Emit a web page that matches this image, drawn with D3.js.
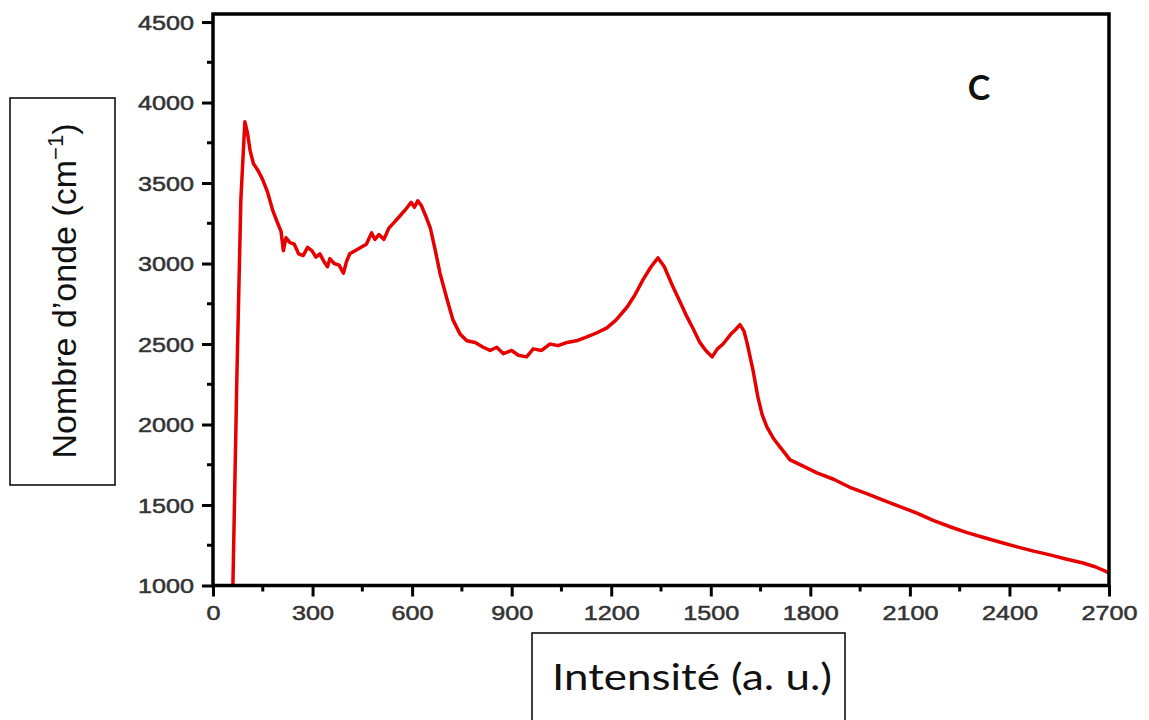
<!DOCTYPE html>
<html>
<head>
<meta charset="utf-8">
<script src="https://cdn.jsdelivr.net/npm/d3@7"></script>
<style>
  body { margin: 0; background: #fff; }
  svg { display: block; }
</style>
</head>
<body>
<svg width="1149" height="720"></svg>
<script>
// spectrum
const intensite = [60, 72, 84, 96, 104, 112, 122, 135, 150, 165, 180, 195, 205, 212, 220, 232, 245, 258, 272, 285,
  298, 310, 322, 335, 345, 352, 365, 380, 393, 402, 412, 428, 445, 462, 478, 488, 500, 515, 530, 548,
  565, 582, 597, 607, 617, 628, 640, 655, 670, 684, 705, 723, 745, 765, 790, 814, 835, 855, 875, 900,
  920, 945, 965, 990, 1015, 1040, 1067, 1095, 1127, 1157, 1187, 1215, 1248, 1270, 1296, 1320, 1341, 1360, 1386, 1408,
  1428, 1448, 1467, 1485, 1504, 1520, 1537, 1560, 1575, 1588, 1600, 1609, 1627, 1642, 1655, 1669, 1690, 1709, 1739, 1780,
  1820, 1870, 1919, 1970, 2019, 2070, 2121, 2170, 2221, 2270, 2320, 2370, 2423, 2470, 2522, 2570, 2622, 2660, 2694, 2700];
const nombreOnde = [1000, 2300, 3400, 3880, 3810, 3700, 3620, 3580, 3520, 3440, 3330, 3250, 3200, 3080, 3160, 3130, 3120, 3060, 3050, 3100,
  3080, 3040, 3060, 3010, 2980, 3030, 3000, 2990, 2940, 3010, 3060, 3080, 3100, 3120, 3190, 3150, 3180, 3150, 3220, 3260,
  3300, 3340, 3380, 3350, 3390, 3360, 3300, 3220, 3080, 2940, 2780, 2650, 2560, 2520, 2510, 2480, 2460, 2480, 2440, 2460,
  2430, 2420, 2470, 2460, 2500, 2490, 2510, 2520, 2545, 2570, 2600, 2650, 2730, 2800, 2900, 2980, 3035, 2980, 2855, 2760,
  2670, 2590, 2510, 2460, 2420, 2470, 2500, 2560, 2590, 2620, 2580, 2510, 2340, 2170, 2060, 1985, 1910, 1860, 1780, 1740,
  1700, 1660, 1610, 1570, 1530, 1490, 1450, 1405, 1365, 1330, 1300, 1270, 1240, 1215, 1190, 1165, 1140, 1115, 1085, 1075];
const xTicks = [0, 300, 600, 900, 1200, 1500, 1800, 2100, 2400, 2700];
const yTicks = [1000, 1500, 2000, 2500, 3000, 3500, 4000, 4500];

const svg = d3.select("svg");
const plotLeft = 213, plotRight = 1109, plotTop = 14, plotBottom = 585.5;

const x = d3.scaleLinear().domain([0, 2700]).range([plotLeft, plotRight]);
const y = d3.scaleLinear().domain([1000, 4550]).range([plotBottom, plotTop]);

// clip the curve to the frame
svg.append("clipPath").attr("id", "clip")
  .append("rect").attr("x", plotLeft).attr("y", plotTop)
  .attr("width", plotRight - plotLeft).attr("height", plotBottom - plotTop);

const pts = intensite.map((d, i) => [d, nombreOnde[i]]);
svg.append("path")
  .datum(pts)
  .attr("clip-path", "url(#clip)")
  .attr("fill", "none")
  .attr("stroke", "#e60000")
  .attr("stroke-width", 3.5)
  .attr("stroke-linejoin", "round")
  .attr("d", d3.line().x(d => x(d[0])).y(d => y(d[1])));

// minor ticks
const xMinor = d3.range(150, 2700, 300);
const yMinor = d3.range(1250, 4500, 500);

svg.append("g").selectAll("line").data(xMinor).enter().append("line")
  .attr("x1", d => x(d)).attr("x2", d => x(d))
  .attr("y1", plotBottom).attr("y2", plotBottom + 6)
  .attr("stroke", "#000").attr("stroke-width", 3);
svg.append("g").selectAll("line").data(yMinor).enter().append("line")
  .attr("y1", d => y(d)).attr("y2", d => y(d))
  .attr("x1", plotLeft).attr("x2", plotLeft - 6)
  .attr("stroke", "#000").attr("stroke-width", 3);

// x axis
const xAxis = svg.append("g")
  .attr("transform", `translate(0,${plotBottom})`)
  .call(d3.axisBottom(x).tickValues(xTicks).tickFormat(d3.format("d"))
    .tickSize(11).tickSizeOuter(0).tickPadding(9));
// y axis
const yAxis = svg.append("g")
  .attr("transform", `translate(${plotLeft},0)`)
  .call(d3.axisLeft(y).tickValues(yTicks).tickFormat(d3.format("d"))
    .tickSize(11).tickSizeOuter(0).tickPadding(8));

[xAxis, yAxis].forEach(g => {
  g.select(".domain").remove();
  g.selectAll(".tick line").attr("stroke", "#000").attr("stroke-width", 3);
  g.selectAll(".tick text")
    .attr("fill", "#333")
    .attr("stroke", "#333")
    .attr("stroke-width", 0.5)
    .style("font-family", "'Liberation Sans', Arial, sans-serif")
    .style("font-size", "20px")
    .attr("textLength", d => String(d).length * 14)
    .attr("lengthAdjust", "spacingAndGlyphs");
});
yAxis.selectAll(".tick text").attr("dy", "0.36em");

// frame
svg.append("rect")
  .attr("x", plotLeft).attr("y", plotTop)
  .attr("width", plotRight - plotLeft).attr("height", plotBottom - plotTop)
  .attr("fill", "none").attr("stroke", "#000").attr("stroke-width", 3.5);

// panel letter
svg.append("text")
  .attr("x", 979).attr("y", 100)
  .attr("text-anchor", "middle")
  .style("font-family", "Lato, 'Open Sans', sans-serif")
  .style("font-weight", "bold")
  .style("font-size", "34px")
  .attr("fill", "#111")
  .text("C");

// y label box
svg.append("rect")
  .attr("x", 10).attr("y", 98).attr("width", 105).attr("height", 387)
  .attr("fill", "#fff").attr("stroke", "#000").attr("stroke-width", 1.5);
const yLab = svg.append("text")
  .attr("transform", "translate(76,291) rotate(-90)")
  .attr("text-anchor", "middle")
  .style("font-family", "'Liberation Sans', Arial, sans-serif")
  .style("font-size", "34px")
  .attr("fill", "#111");
yLab.append("tspan").text("Nombre d\u2019onde (cm");
yLab.append("tspan").attr("dy", "-13").style("font-size", "22px").text("\u22121");
yLab.append("tspan").attr("dy", "13").text(")");

// x label box
svg.append("rect")
  .attr("x", 532).attr("y", 633).attr("width", 313).attr("height", 110)
  .attr("fill", "#fff").attr("stroke", "#000").attr("stroke-width", 1.5);
svg.append("text")
  .attr("x", 552).attr("y", 690)
  .attr("textLength", 280).attr("lengthAdjust", "spacingAndGlyphs")
  .style("font-family", "Lato, 'Open Sans', sans-serif")
  .style("font-size", "36px")
  .attr("fill", "#111")
  .text("Intensité (a. u.)");
</script>
</body>
</html>
